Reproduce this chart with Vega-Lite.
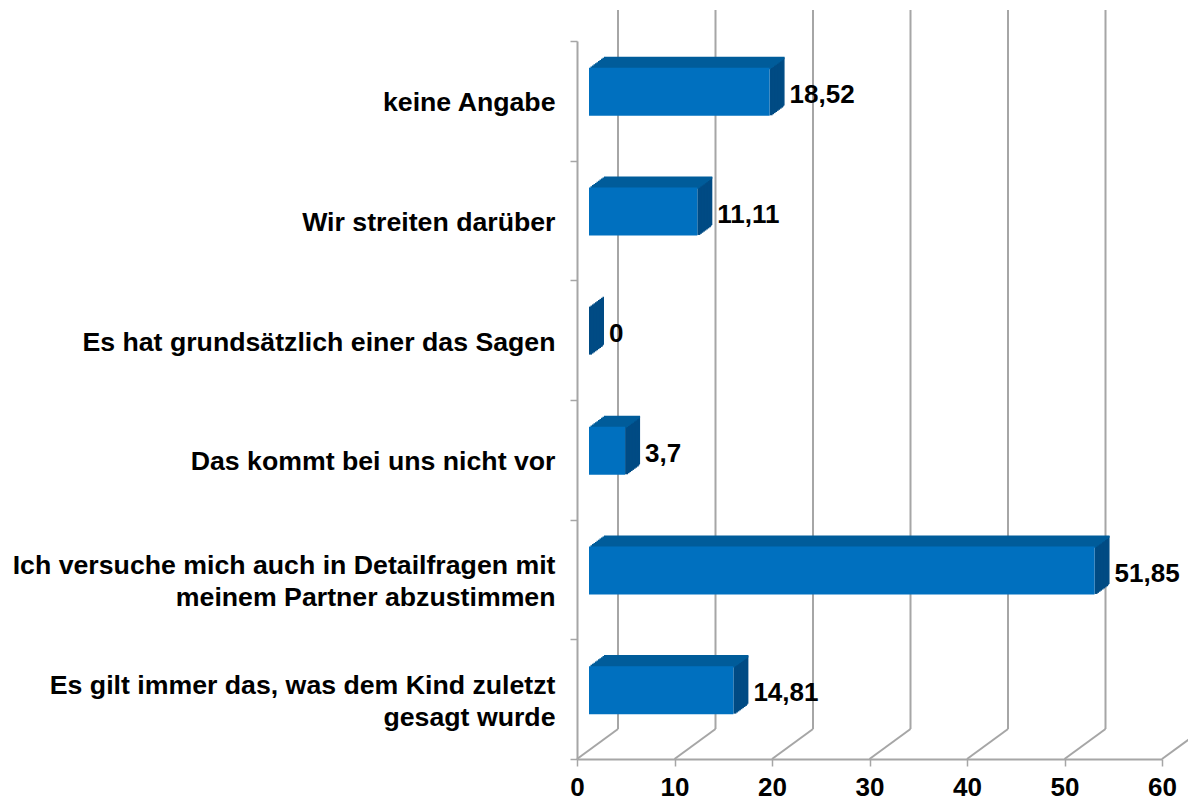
{
  "$schema": "https://vega.github.io/schema/vega-lite/v6.json",
  "width": 585,
  "height": 718,
  "autosize": "none",
  "padding": {"left": 577, "top": 41, "right": 26, "bottom": 49},
  "background": "white",
  "data": {"values": [
    {"c": "keine Angabe", "v": 18.52},
    {"c": "Wir streiten darüber", "v": 11.11},
    {"c": "Es hat grundsätzlich einer das Sagen", "v": 0},
    {"c": "Das kommt bei uns nicht vor", "v": 3.7},
    {"c": "Ich versuche mich auch in Detailfragen mit\nmeinem Partner abzustimmen", "v": 51.85},
    {"c": "Es gilt immer das, was dem Kind zuletzt\ngesagt wurde", "v": 14.81}
  ]},
  "datasets": {
    "ticks": [{"t": 0}, {"t": 10}, {"t": 20}, {"t": 30}, {"t": 40}, {"t": 50}, {"t": 60}],
    "one": [{"k": 1}]
  },
  "encoding": {
    "x": {"field": "v", "type": "quantitative", "title": null,
      "scale": {"domain": [0, 60], "nice": false, "zero": true},
      "axis": {"values": [0, 10, 20, 30, 40, 50, 60], "grid": false, "title": null, "format": "d",
        "domainColor": "#A6A6A6", "domainWidth": 2, "tickColor": "#A6A6A6", "tickWidth": 1.5, "tickSize": 7,
        "labelFont": "Liberation Sans", "labelFontWeight": "bold", "labelFontSize": 26, "labelColor": "#000000",
        "labelPadding": 8, "labelFlush": false, "labelOverlap": false}},
    "y": {"field": "c", "type": "nominal", "sort": null, "title": null,
      "scale": {"domain": ["keine Angabe", "Wir streiten darüber", "Es hat grundsätzlich einer das Sagen", "Das kommt bei uns nicht vor", "Ich versuche mich auch in Detailfragen mit\nmeinem Partner abzustimmen", "Es gilt immer das, was dem Kind zuletzt\ngesagt wurde"], "paddingInner": 0, "paddingOuter": 0},
      "axis": {"title": null, "tickBand": "extent", "grid": false,
        "domainColor": "#A6A6A6", "domainWidth": 2, "tickColor": "#A6A6A6", "tickWidth": 1.5, "tickSize": 7,
        "labelFont": "Liberation Sans", "labelFontWeight": "bold", "labelFontSize": 26.7, "labelColor": "#000000",
        "labelPadding": 15, "labelLimit": 800, "labelLineHeight": 32,
        "labelOffset": {"condition": {"test": "indexof(datum.label, '\\n') >= 0", "value": -14}, "value": 2},
        "labelExpr": "split(datum.label, '\\n')"}}
  },
  "layer": [
    {"data": {"name": "ticks"},
     "mark": {"type": "rule", "color": "#A6A6A6", "strokeWidth": 2, "xOffset": 41, "yOffset": -31, "y2Offset": -30},
     "encoding": {
       "x": {"field": "t", "type": "quantitative", "title": null},
       "y": {"datum": "keine Angabe", "type": "nominal", "bandPosition": 0},
       "y2": {"datum": "Es gilt immer das, was dem Kind zuletzt\ngesagt wurde", "bandPosition": 1}}},
    {"data": {"name": "ticks"},
     "mark": {"type": "rule", "color": "#A6A6A6", "strokeWidth": 2, "xOffset": 0, "x2Offset": 41, "y2Offset": -30},
     "encoding": {
       "x": {"field": "t", "type": "quantitative", "title": null},
       "x2": {"field": "t"},
       "y": {"datum": "Es gilt immer das, was dem Kind zuletzt\ngesagt wurde", "type": "nominal", "bandPosition": 1},
       "y2": {"datum": "Es gilt immer das, was dem Kind zuletzt\ngesagt wurde", "bandPosition": 1}}},
    {"data": {"name": "one"},
     "mark": {"type": "rule", "color": "#A6A6A6", "strokeWidth": 2, "x2Offset": 41, "y2Offset": -31},
     "encoding": {
       "x": {"datum": 0, "type": "quantitative"},
       "x2": {"datum": 0},
       "y": {"datum": "keine Angabe", "type": "nominal", "bandPosition": 0},
       "y2": {"datum": "keine Angabe", "bandPosition": 0}}},
    {"mark": {"type": "bar", "color": "#004B84", "height": 48, "xOffset": 12, "x2Offset": 15, "yOffset": -9.55}, "encoding": {"x2": {"field": "v"}}},
    {"mark": {"type": "bar", "color": "#004B84", "height": 48, "xOffset": 13.5, "x2Offset": 16.5, "yOffset": -10.65}, "encoding": {"x2": {"field": "v"}}},
    {"mark": {"type": "bar", "color": "#004B84", "height": 48, "xOffset": 15, "x2Offset": 18, "yOffset": -11.75}, "encoding": {"x2": {"field": "v"}}},
    {"mark": {"type": "bar", "color": "#004B84", "height": 48, "xOffset": 16.5, "x2Offset": 19.5, "yOffset": -12.85}, "encoding": {"x2": {"field": "v"}}},
    {"mark": {"type": "bar", "color": "#004B84", "height": 48, "xOffset": 18, "x2Offset": 21, "yOffset": -13.95}, "encoding": {"x2": {"field": "v"}}},
    {"mark": {"type": "bar", "color": "#004B84", "height": 48, "xOffset": 19.5, "x2Offset": 22.5, "yOffset": -15.05}, "encoding": {"x2": {"field": "v"}}},
    {"mark": {"type": "bar", "color": "#004B84", "height": 48, "xOffset": 21, "x2Offset": 24, "yOffset": -16.15}, "encoding": {"x2": {"field": "v"}}},
    {"mark": {"type": "bar", "color": "#004B84", "height": 48, "xOffset": 22.5, "x2Offset": 25.5, "yOffset": -17.25}, "encoding": {"x2": {"field": "v"}}},
    {"mark": {"type": "bar", "color": "#004B84", "height": 48, "xOffset": 24, "x2Offset": 26.2, "yOffset": -18.35}, "encoding": {"x2": {"field": "v"}}},
    {"mark": {"type": "bar", "color": "#004B84", "height": 48, "xOffset": 25.5, "x2Offset": 27, "yOffset": -19.45}, "encoding": {"x2": {"field": "v"}}},
    {"mark": {"type": "bar", "color": "#005C9A", "height": 2.6, "xOffset": 13.5, "x2Offset": 13.5, "yOffset": -33}, "encoding": {"x2": {"datum": 0}}},
    {"mark": {"type": "bar", "color": "#005C9A", "height": 2.6, "xOffset": 15, "x2Offset": 15, "yOffset": -34.1}, "encoding": {"x2": {"datum": 0}}},
    {"mark": {"type": "bar", "color": "#005C9A", "height": 2.6, "xOffset": 16.5, "x2Offset": 16.5, "yOffset": -35.2}, "encoding": {"x2": {"datum": 0}}},
    {"mark": {"type": "bar", "color": "#005C9A", "height": 2.6, "xOffset": 18, "x2Offset": 18, "yOffset": -36.3}, "encoding": {"x2": {"datum": 0}}},
    {"mark": {"type": "bar", "color": "#005C9A", "height": 2.6, "xOffset": 19.5, "x2Offset": 19.5, "yOffset": -37.4}, "encoding": {"x2": {"datum": 0}}},
    {"mark": {"type": "bar", "color": "#005C9A", "height": 2.6, "xOffset": 21, "x2Offset": 21, "yOffset": -38.5}, "encoding": {"x2": {"datum": 0}}},
    {"mark": {"type": "bar", "color": "#005C9A", "height": 2.6, "xOffset": 22.5, "x2Offset": 22.5, "yOffset": -39.6}, "encoding": {"x2": {"datum": 0}}},
    {"mark": {"type": "bar", "color": "#005C9A", "height": 2.6, "xOffset": 24, "x2Offset": 24, "yOffset": -40.7}, "encoding": {"x2": {"datum": 0}}},
    {"mark": {"type": "bar", "color": "#005C9A", "height": 2.6, "xOffset": 25.5, "x2Offset": 25.5, "yOffset": -41.8}, "encoding": {"x2": {"datum": 0}}},
    {"mark": {"type": "bar", "color": "#005C9A", "height": 2.4, "xOffset": 27, "x2Offset": 27, "yOffset": -42.9}, "encoding": {"x2": {"datum": 0}}},
    {"mark": {"type": "bar", "color": "#0070BF", "height": 48, "xOffset": 12, "x2Offset": 12, "yOffset": -9}, "encoding": {"x2": {"datum": 0}}},
    {"mark": {"type": "text", "align": "left", "baseline": "middle", "xOffset": 32, "yOffset": -6, "font": "Liberation Sans", "fontWeight": "bold", "fontSize": 26, "color": "#000000"},
     "encoding": {"text": {"field": "v", "type": "quantitative", "format": ".4~g"}}}
  ],
  "config": {
    "view": {"stroke": null},
    "locale": {"number": {"decimal": ",", "thousands": ".", "grouping": [3], "currency": ["", " €"]}}
  }
}
